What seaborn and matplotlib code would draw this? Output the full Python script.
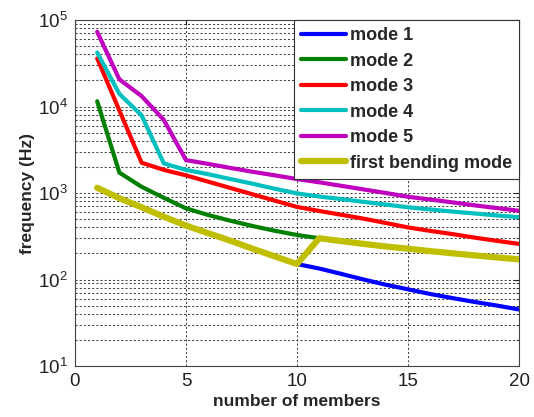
import numpy as np
import pandas as pd
import seaborn as sns
import matplotlib
matplotlib.use("Agg")
import matplotlib.pyplot as plt

# donnees (frequence en Hz)
members = list(range(1, 21))
mode1 = [1150, 870, 684, 532, 420, 343, 281, 227, 185, 151,
         134, 116, 100, 87, 77, 68, 61, 55, 50, 45]
mode2 = [11500, 1720, 1180, 880, 665, 557, 478, 415, 366, 327,
         300, 278, 258, 241, 227, 213, 201, 190, 180, 171]
mode3 = [36000, 9000, 2240, 1850, 1600, 1352, 1143, 966, 816, 690,
         620, 560, 505, 450, 400, 365, 335, 305, 280, 258]
mode4 = [42000, 14000, 7900, 2200, 1850, 1650, 1450, 1280, 1120, 990,
         910, 850, 790, 735, 684, 645, 610, 580, 550, 525]
mode5 = [73000, 20600, 13200, 7000, 2400, 2170, 1950, 1760, 1600, 1450,
         1330, 1210, 1100, 1000, 905, 840, 780, 720, 670, 623]
# premier mode de flexion : mode 1 jusqu'a 10 membres puis mode 2
first_bending = mode1[:10] + mode2[10:]

labels = ["mode 1", "mode 2", "mode 3", "mode 4", "mode 5", "first bending mode"]
series = [mode1, mode2, mode3, mode4, mode5, first_bending]
colors = ["#0000ff", "#007f00", "#ff0000", "#00bfbf", "#bf00bf", "#bfbf00"]
widths = [3.0, 3.0, 3.0, 3.0, 3.0, 4.5]

sns.set_style("white")
plt.rcParams["font.family"] = ["Liberation Sans", "DejaVu Sans"]
plt.rcParams["mathtext.default"] = "regular"

df = pd.DataFrame({"n": members * len(labels),
                   "f": np.concatenate(series),
                   "mode": np.repeat(labels, len(members))})

fig = plt.figure(figsize=(5.34, 4.17), dpi=100)
ax = fig.add_axes([0.1404, 0.1223, 0.8316, 0.8297])

for lab, col, lw in zip(labels, colors, widths):
    sns.lineplot(data=df[df["mode"] == lab], x="n", y="f", color=col,
                 linewidth=lw, label=lab, ax=ax, zorder=3)

ax.set_yscale("log")
ax.set_xlim(0, 20)
ax.set_ylim(10, 1e5)
ax.set_xticks([0, 5, 10, 15, 20])

# grille pointillee facon matlab
ax.grid(True, which="major", axis="both", color="#444444",
        linestyle=(0, (2, 2)), linewidth=0.75)
ax.grid(True, which="minor", axis="y", color="#444444",
        linestyle=(0, (2, 2)), linewidth=0.75)
ax.tick_params(which="both", direction="in", top=True, right=True,
               labelsize=13.5, colors="#222222", pad=5)
for sp in ax.spines.values():
    sp.set_color("#444444")
    sp.set_linewidth(0.8)

ax.set_xlabel("number of members", fontsize=12.5, fontweight="bold", labelpad=3)
ax.set_ylabel("frequency (Hz)", fontsize=12.5, fontweight="bold", labelpad=2)

leg = ax.legend(loc="upper right", borderaxespad=0, fancybox=False,
                framealpha=1, edgecolor="#333333", handlelength=2.5,
                handletextpad=0.2, labelspacing=0.47, borderpad=0.4,
                prop={"size": 13, "weight": "bold"})
leg.get_frame().set_linewidth(0.8)

fig.savefig("out.png", dpi=100)
